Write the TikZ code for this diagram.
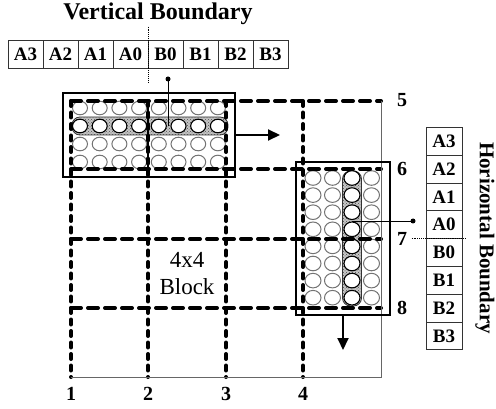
\documentclass[tikz,border=0pt]{standalone}
\usepackage{fontspec}
\setmainfont{Liberation Serif}
\usetikzlibrary{positioning, arrows.meta, calc, patterns}

\begin{document}
\begin{tikzpicture}[x=1pt, y=-1pt,
  every node/.style={font=\bfseries\fontsize{19}{19}\selectfont, inner sep=0pt},
  hdash/.style={line width=4pt, line cap=round, dash pattern=on 10pt off 7pt},
  vdash/.style={line width=4pt, line cap=round, dash pattern=on 5pt off 6.5pt},
  edge/.style={gray!80!black, line width=0.8pt},
  bound/.style={densely dotted, line width=0.9pt},
  cell/.style={draw=black!80, line width=0.7pt, minimum width=35pt, minimum height=28pt},
  bubble/.style={draw=black!55, line width=1pt, fill=white},
  hibubble/.style={draw=black, line width=1.1pt, fill=white},
  hilite/.style={draw=black!80, preaction={fill=gray!45}, pattern=crosshatch dots, pattern color=black!70, rounded corners=8pt, line width=0.8pt},
  frame/.style={draw, line width=2.4pt},
  push/.style={-{Triangle[length=12pt, width=11pt]}, line width=2pt},
  pin/.style={line width=0.6pt}]
\useasboundingbox (0,0) rectangle (496,409);
% Vertical boundary register
\node[font=\bfseries\fontsize{24}{24}\selectfont] (vtitle) at (158,14) {Vertical Boundary};
\foreach \lbl [count=\i] in {A3,A2,A1,A0,B0,B1,B2,B3} {
  \node[cell] (v\i) at ({8+35*(\i-0.5)},54) {\lbl};
}
\draw[bound] ($(v4.north east)+(0,-13)$) -- ($(v4.south east)+(0,14)$);
% Horizontal boundary register
\foreach \lbl [count=\i] in {A3,A2,A1,A0,B0,B1,B2,B3} {
  \node[cell, minimum width=36pt, minimum height=27.8pt] (h\i) at (444,{127.4+27.8*(\i-0.5)}) {\lbl};
}
\draw[bound] ($(h4.south west)+(-14,0)$) -- ($(h4.south east)+(4,0)$);
\node[rotate=-90, font=\bfseries\fontsize{21}{21}\selectfont] (htitle) at (485,238) {Horizontal Boundary};
% Highlighted row and column
\node[hilite, minimum width=156pt, minimum height=18pt] (rowhl) at (150,126) {};
\node[hilite, minimum width=19pt, minimum height=135pt] (colhl) at (352,238.5) {};
% Pixels of the horizontal edge (4 rows x 8 columns)
\foreach \c in {0,...,7} {
  \foreach \r in {0,2,3} {
    \draw[bubble] ({80+19.7*\c},{108+18*\r}) ellipse (7.5pt and 6.8pt);
  }
  \draw[hibubble] ({80+19.7*\c},126) ellipse (7.5pt and 6.8pt);
}
% Pixels of the vertical edge (8 rows x 4 columns)
\foreach \r in {0,...,7} {
  \foreach \c in {0,1,3} {
    \draw[bubble] ({313+19.5*\c},{178+17.1*\r}) ellipse (8pt and 7.3pt);
  }
  \draw[hibubble] (352,{178+17.1*\r}) ellipse (8pt and 7.3pt);
}
% 4x4 block grid
\foreach \x in {71,148,226,303} {
  \draw[vdash] (\x,101) -- (\x,377);
}
\foreach \y in {101,169,239,308} {
  \draw[hdash] (71,\y) -- (381,\y);
}
\draw[edge] (381,101) -- (381,377) -- (71,377);
\draw[line width=2pt] (148,101) -- (148,169);
\foreach \x [count=\i] in {71,148,226,303} {
  \node[font=\bfseries\fontsize{20}{20}\selectfont] (n\i) at (\x,394) {\i};
}
\foreach \y [count=\i from 5] in {100,169,239,308} {
  \node[font=\bfseries\fontsize{20}{20}\selectfont] (n\i) at (402,\y) {\i};
}
\node[font=\fontsize{23}{27}\selectfont, align=center] (blk) at (187,274) {4x4\\Block};
% Filter windows
\node[frame, minimum width=172pt, minimum height=84pt] (rowbox) at (149,135) {};
\node[frame, minimum width=94pt, minimum height=153pt] (colbox) at (343,238.5) {};
% Pins to the registers
\coordinate (vpin) at (168,79);
\fill (vpin) circle (2.5pt);
\draw[pin] (vpin) -- (vpin |- rowhl.center);
\coordinate (hpin) at (413,221);
\fill (hpin) circle (2.5pt);
\draw[pin] (hpin) -- (hpin -| colhl.center);
% Moving directions
\coordinate (rowto) at (280,135);
\draw[push] (rowbox.east) -- (rowto);
\coordinate (colto) at (343,350);
\draw[push] (colbox.south) -- (colto);
\end{tikzpicture}
\end{document}
